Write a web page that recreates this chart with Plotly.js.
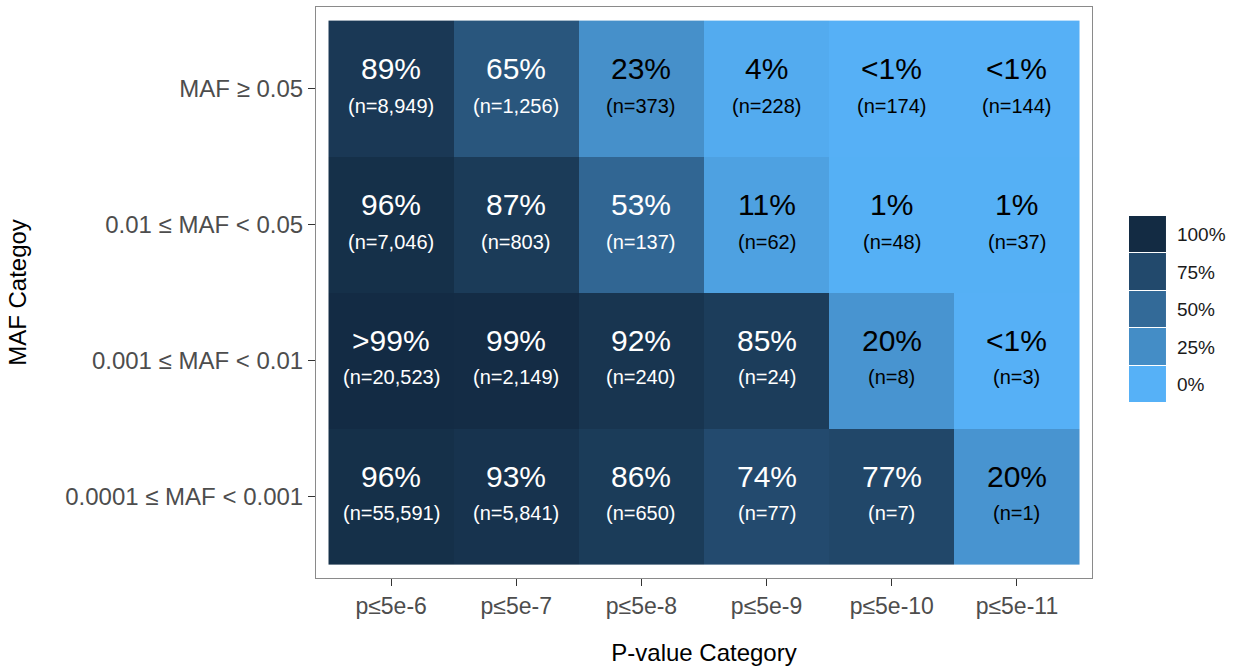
<!DOCTYPE html>
<html>
<head>
<meta charset="utf-8">
<script src="https://cdn.plot.ly/plotly-3.0.1.min.js"></script>
<style>
  html, body { margin: 0; padding: 0; background: #ffffff; }
  #chart { width: 1234px; height: 669px; }
</style>
</head>
<body>
<div id="chart"></div>
<script>
// P-value bins (columns) and MAF bins (rows, bottom to top)
const pCategories = ['p≤5e-6', 'p≤5e-7', 'p≤5e-8', 'p≤5e-9', 'p≤5e-10', 'p≤5e-11'];
const mafCategories = [
  '0.0001 ≤ MAF < 0.001',
  '0.001 ≤ MAF < 0.01',
  '0.01 ≤ MAF < 0.05',
  'MAF ≥ 0.05'
];

// Percentage per cell, one array per MAF row (same order as mafCategories)
const pctMaf00001 = [96, 93, 86, 74, 77, 20];
const pctMaf0001  = [99.6, 99, 92, 85, 20, 0.5];
const pctMaf001   = [96, 87, 53, 11, 1, 1];
const pctMaf005   = [89, 65, 23, 4, 0.5, 0.5];

// Number of variants per cell
const nMaf00001 = [55591, 5841, 650, 77, 7, 1];
const nMaf0001  = [20523, 2149, 240, 24, 8, 3];
const nMaf001   = [7046, 803, 137, 62, 48, 37];
const nMaf005   = [8949, 1256, 373, 228, 174, 144];

// Legend keys
const legendValues = [0, 25, 50, 75, 100];
const legendLabels = ['0%', '25%', '50%', '75%', '100%'];

const pctRows = [pctMaf00001, pctMaf0001, pctMaf001, pctMaf005];
const nRows = [nMaf00001, nMaf0001, nMaf001, nMaf005];

// --- colour scale: light blue -> dark navy, interpolated in CIE Lab ---
function hexToRgb(h) {
  return [parseInt(h.slice(1, 3), 16), parseInt(h.slice(3, 5), 16), parseInt(h.slice(5, 7), 16)];
}
function srgbToLin(c) { c /= 255; return c <= 0.04045 ? c / 12.92 : Math.pow((c + 0.055) / 1.055, 2.4); }
function linToSrgb(c) {
  const v = c <= 0.0031308 ? 12.92 * c : 1.055 * Math.pow(c, 1 / 2.4) - 0.055;
  return Math.max(0, Math.min(255, Math.round(v * 255)));
}
const WX = 0.95047, WY = 1.0, WZ = 1.08883;
function f(t) { return t > 216 / 24389 ? Math.cbrt(t) : (24389 / 27 * t + 16) / 116; }
function fi(t) { return t * t * t > 216 / 24389 ? t * t * t : (116 * t - 16) / (24389 / 27); }
function rgbToLab(rgb) {
  const [r, g, b] = rgb.map(srgbToLin);
  const x = 0.4124 * r + 0.3576 * g + 0.1805 * b;
  const y = 0.2126 * r + 0.7152 * g + 0.0722 * b;
  const z = 0.0193 * r + 0.1192 * g + 0.9505 * b;
  const fx = f(x / WX), fy = f(y / WY), fz = f(z / WZ);
  return [116 * fy - 16, 500 * (fx - fy), 200 * (fy - fz)];
}
function labToRgb(lab) {
  const fy = (lab[0] + 16) / 116, fx = fy + lab[1] / 500, fz = fy - lab[2] / 200;
  const x = WX * fi(fx), y = WY * fi(fy), z = WZ * fi(fz);
  const r = 3.2406 * x - 1.5372 * y - 0.4986 * z;
  const g = -0.9689 * x + 1.8758 * y + 0.0415 * z;
  const b = 0.0557 * x - 0.2040 * y + 1.0570 * z;
  return [linToSrgb(r), linToSrgb(g), linToSrgb(b)];
}
const lowLab = rgbToLab(hexToRgb('#56B1F7'));
const highLab = rgbToLab(hexToRgb('#132B43'));
const colorscale = [];
for (let i = 0; i <= 20; i++) {
  const t = i / 20;
  const lab = lowLab.map((v, k) => v + (highLab[k] - v) * t);
  const c = labToRgb(lab);
  colorscale.push([t, 'rgb(' + c.join(',') + ')']);
}

// --- cell labels ---
function pctLabel(v) {
  if (v < 1) return '<1%';
  if (v > 99.5) return '>99%';
  return Math.round(v) + '%';
}
const FONT = 'Liberation Sans, Arial, Helvetica, sans-serif';
const annotations = [];
pctRows.forEach((row, r) => {
  row.forEach((v, c) => {
    const col = v >= 50 ? '#ffffff' : '#000000';
    annotations.push({
      x: pCategories[c], y: mafCategories[r], xref: 'x', yref: 'y',
      text: pctLabel(v), showarrow: false, yshift: 20,
      font: { family: FONT, size: 30, color: col }
    });
    annotations.push({
      x: pCategories[c], y: mafCategories[r], xref: 'x', yref: 'y',
      text: '(n=' + nRows[r][c].toLocaleString('en-US') + ')', showarrow: false, yshift: -17,
      font: { family: FONT, size: 20, color: col }
    });
  });
});

const traces = [
  {
    type: 'heatmap',
    x: pCategories,
    y: mafCategories,
    z: pctRows,
    zmin: 0, zmax: 100,
    colorscale: colorscale,
    showscale: false,
    hoverinfo: 'skip',
    xaxis: 'x', yaxis: 'y'
  },
  {
    type: 'heatmap',
    x: ['key'],
    y: legendLabels,
    z: legendValues.map(v => [v]),
    zmin: 0, zmax: 100,
    colorscale: colorscale,
    showscale: false,
    ygap: 1,
    hoverinfo: 'skip',
    xaxis: 'x2', yaxis: 'y2'
  }
];

const layout = {
  width: 1234, height: 669,
  margin: { l: 316, r: 30, t: 7, b: 91 },
  paper_bgcolor: '#ffffff',
  plot_bgcolor: '#ffffff',
  font: { family: FONT },
  xaxis: {
    domain: [0, 0.8739],
    type: 'category',
    categoryorder: 'array', categoryarray: pCategories,
    range: [-0.6, 5.6],
    showline: true, mirror: true, linecolor: '#8a8a8a', linewidth: 1,
    showgrid: false, zeroline: false,
    ticks: 'outside', ticklen: 7, tickcolor: '#333333', tickwidth: 1,
    tickfont: { family: FONT, size: 23, color: '#4d4d4d' },
    title: { text: 'P-value Category', font: { family: FONT, size: 24, color: '#000000' }, standoff: 26 },
    fixedrange: true
  },
  yaxis: {
    domain: [0, 1],
    type: 'category',
    categoryorder: 'array', categoryarray: mafCategories,
    range: [-0.6, 3.6],
    showline: true, mirror: true, linecolor: '#8a8a8a', linewidth: 1,
    showgrid: false, zeroline: false,
    ticks: 'outside', ticklen: 7, tickcolor: '#333333', tickwidth: 1,
    tickfont: { family: FONT, size: 24, color: '#4d4d4d' },
    title: { text: 'MAF Categoy', font: { family: FONT, size: 24, color: '#000000' }, standoff: 31 },
    fixedrange: true
  },
  xaxis2: {
    domain: [0.9155, 0.9572],
    anchor: 'y2',
    showticklabels: false, showgrid: false, zeroline: false, showline: false,
    ticks: '', fixedrange: true
  },
  yaxis2: {
    domain: [0.3065, 0.634],
    anchor: 'x2',
    side: 'right',
    type: 'category',
    categoryorder: 'array', categoryarray: legendLabels,
    range: [-0.5, 4.5],
    showgrid: false, zeroline: false, showline: false,
    ticks: '', ticklabelstandoff: 10,
    tickfont: { family: FONT, size: 19, color: '#1a1a1a' },
    fixedrange: true
  },
  annotations: annotations,
  showlegend: false
};

Plotly.newPlot('chart', traces, layout, { displayModeBar: false, staticPlot: true });
</script>
</body>
</html>
